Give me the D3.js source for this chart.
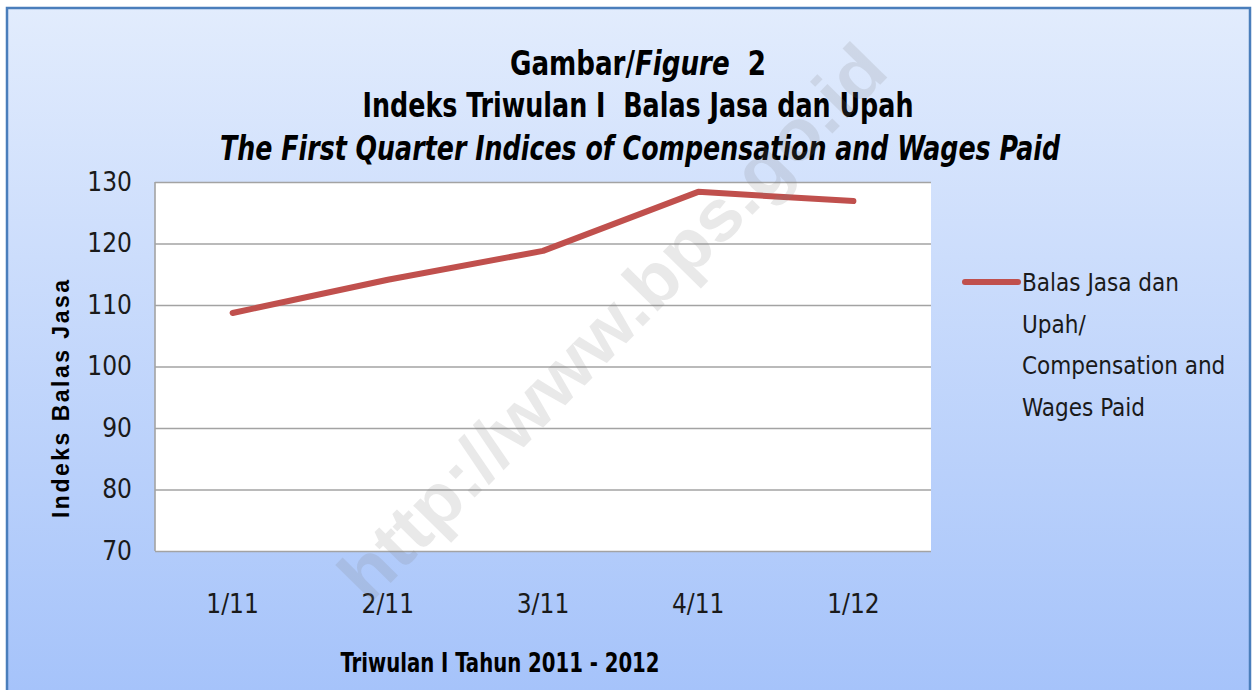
<!DOCTYPE html>
<html>
<head>
<meta charset="utf-8">
<script src="https://cdn.jsdelivr.net/npm/d3@7"></script>
<style>
  body { margin: 0; background: #fff; }
  svg { display: block; }
</style>
</head>
<body>
<svg id="chart" width="1255" height="690"></svg>
<script>
const quarters = ["1/11", "2/11", "3/11", "4/11", "1/12"];
const compensation = [108.7, 114.1, 118.8, 128.4, 126.9];
const yTicks = [70, 80, 90, 100, 110, 120, 130];
const legendLines = ["Balas Jasa dan", "Upah/", "Compensation and", "Wages Paid"];

const svg = d3.select("#chart");
const narrow = "'Liberation Sans Narrow', 'DejaVu Sans Condensed', sans-serif";

// background
const defs = svg.append("defs");
const grad = defs.append("linearGradient")
    .attr("id", "bg")
    .attr("x1", 0).attr("y1", 0).attr("x2", 0).attr("y2", 1);
grad.append("stop").attr("offset", "0%").attr("stop-color", "#e2ecfd");
grad.append("stop").attr("offset", "100%").attr("stop-color", "#a4c2fa");

svg.append("rect")
    .attr("x", 7).attr("y", 8)
    .attr("width", 1243).attr("height", 700)
    .attr("fill", "url(#bg)")
    .attr("stroke", "#4a7ebb")
    .attr("stroke-width", 2.5);

const plotL = 155, plotR = 931, plotT = 182, plotB = 551;

const x = d3.scaleBand()
    .domain(quarters)
    .range([plotL, plotR]);

const y = d3.scaleLinear()
    .domain([70, 130])
    .range([plotB, plotT]);

svg.append("rect")
    .attr("x", plotL).attr("y", plotT)
    .attr("width", plotR - plotL).attr("height", plotB - plotT)
    .attr("fill", "#fff");

// gridlines + y labels
svg.append("g")
    .attr("transform", `translate(${plotL},0)`)
    .call(d3.axisLeft(y).tickValues(yTicks).tickSize(-(plotR - plotL)).tickPadding(23))
    .call(g => g.select(".domain").remove())
    .call(g => g.selectAll(".tick line").attr("stroke", "#a3a3a3").attr("stroke-width", 1.6))
    .call(g => g.selectAll(".tick text")
        .attr("font-family", narrow)
        .attr("font-size", 26)
        .attr("fill", "#1a1a1a"));

// left axis line
svg.append("line")
    .attr("x1", plotL).attr("x2", plotL)
    .attr("y1", plotT).attr("y2", plotB)
    .attr("stroke", "#a3a3a3").attr("stroke-width", 1.6);

// x labels
svg.append("g")
    .attr("transform", `translate(0,${plotB})`)
    .call(d3.axisBottom(x).tickSize(0).tickPadding(44))
    .call(g => g.select(".domain").remove())
    .call(g => g.selectAll(".tick text")
        .attr("font-family", narrow)
        .attr("font-size", 26)
        .attr("fill", "#1a1a1a"));

// line
const line = d3.line()
    .x((d, i) => x(quarters[i]) + x.bandwidth() / 2)
    .y(d => y(d));

svg.append("path")
    .datum(compensation)
    .attr("d", line)
    .attr("fill", "none")
    .attr("stroke", "#c0504d")
    .attr("stroke-width", 6)
    .attr("stroke-linecap", "round")
    .attr("stroke-linejoin", "round");

// titles
const title = svg.append("g")
    .attr("font-family", narrow)
    .attr("font-weight", "bold")
    .attr("fill", "#000");

const t1 = title.append("text")
    .attr("transform", "translate(638,75) scale(0.88,1)")
    .attr("text-anchor", "middle")
    .attr("font-size", 33);
t1.append("tspan").text("Gambar/");
t1.append("tspan").attr("font-style", "italic").text("Figure");
t1.append("tspan").text("\u00a0 2");

title.append("text")
    .attr("x", 638).attr("y", 117)
    .attr("text-anchor", "middle")
    .attr("font-size", 33)
    .attr("textLength", 551)
    .attr("lengthAdjust", "spacingAndGlyphs")
    .text("Indeks Triwulan I \u00a0Balas Jasa dan Upah");

title.append("text")
    .attr("x", 640).attr("y", 160)
    .attr("text-anchor", "middle")
    .attr("font-size", 33)
    .attr("font-style", "italic")
    .attr("textLength", 840)
    .attr("lengthAdjust", "spacingAndGlyphs")
    .text("The First Quarter Indices of Compensation and Wages Paid");

// axis titles
svg.append("text")
    .attr("transform", "translate(69,399) rotate(-90)")
    .attr("text-anchor", "middle")
    .attr("font-family", "'Liberation Sans', Arial, sans-serif")
    .attr("font-weight", "bold")
    .attr("font-size", 23)
    .attr("textLength", 238)
    .attr("lengthAdjust", "spacing")
    .text("Indeks Balas Jasa");

svg.append("text")
    .attr("x", 500).attr("y", 672)
    .attr("text-anchor", "middle")
    .attr("font-family", narrow)
    .attr("font-weight", "bold")
    .attr("font-size", 26)
    .attr("textLength", 319)
    .attr("lengthAdjust", "spacingAndGlyphs")
    .text("Triwulan I Tahun 2011 - 2012");

// legend
const legend = svg.append("g").attr("transform", "translate(965,282)");
legend.append("line")
    .attr("x1", 0).attr("x2", 53)
    .attr("y1", 0).attr("y2", 0)
    .attr("stroke", "#c0504d")
    .attr("stroke-width", 6)
    .attr("stroke-linecap", "round");
legend.selectAll("text")
    .data(legendLines)
    .join("text")
    .attr("x", 57)
    .attr("y", (d, i) => 9 + i * 41.5)
    .attr("font-family", narrow)
    .attr("font-size", 24)
    .attr("fill", "#1a1a1a")
    .text(d => d);

// watermark
svg.append("text")
    .attr("transform", "translate(612,322) rotate(-45.5)")
    .attr("text-anchor", "middle")
    .attr("dominant-baseline", "central")
    .attr("font-family", "'Liberation Sans', Arial, sans-serif")
    .attr("font-weight", "bold")
    .attr("font-size", 72)
    .attr("textLength", 745)
    .attr("lengthAdjust", "spacingAndGlyphs")
    .attr("fill", "#7f7f7f")
    .attr("opacity", 0.17)
    .text("http://www.bps.go.id");
</script>
</body>
</html>
